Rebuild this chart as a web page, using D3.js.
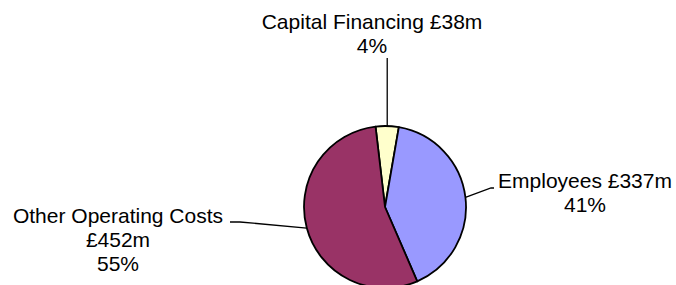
<!DOCTYPE html>
<html lang="en">
<head>
  <meta charset="UTF-8">
  <title>Expenditure pie</title>
  <script src="https://d3js.org/d3.v7.min.js"></script>
  <style>
    body { margin: 0; background: #fff; overflow: hidden; }
    text { font-family: "Liberation Sans", Arial, sans-serif; font-size: 21px; fill: #000; }
  </style>
</head>
<body>
<svg id="chart" width="676" height="285"></svg>
<script>
// data
const categories = ["Capital Financing", "Employees", "Other Operating Costs"];
const values = [38, 337, 452];          // £m
const percents = ["4%", "41%", "55%"];
const colours = ["#FFFFCC", "#9999FF", "#993366"];

const width = 676, height = 285;
const cx = 385, cy = 207, r = 81;
const startDeg = -6.7;

// label layout: text centre x, first baseline, where the leader line bends / ends
const labelLayout = [
  { lines: d => [d.cat + " £" + d.val + "m", d.pct], x: 372, y: 29, leader: (p) => [[p[0], 58]] },
  { lines: d => [d.cat + " £" + d.val + "m", d.pct], x: 585, y: 188, leader: () => [[491, 188], [494, 188]] },
  { lines: d => [d.cat, "£" + d.val + "m", d.pct], x: 118, y: 223, leader: () => [[240, 222], [230, 222]] }
];

const svg = d3.select("#chart").attr("viewBox", [0, 0, width, height]);

const rows = categories.map((c, i) => ({ cat: c, val: values[i], pct: percents[i], col: colours[i] }));

const start = startDeg * Math.PI / 180;
const pie = d3.pie().value(d => d.val).sort(null)
  .startAngle(start).endAngle(start + 2 * Math.PI);
const arcs = pie(rows);
const arc = d3.arc().innerRadius(0).outerRadius(r);

const g = svg.append("g").attr("transform", `translate(${cx},${cy})`);
g.selectAll("path").data(arcs).join("path")
  .attr("d", arc)
  .attr("fill", d => d.data.col)
  .attr("stroke", "#000")
  .attr("stroke-width", 1.8)
  .attr("stroke-linejoin", "round");

// leader lines + labels
arcs.forEach((a, i) => {
  const mid = (a.startAngle + a.endAngle) / 2;
  const edge = [cx + r * Math.sin(mid), cy - r * Math.cos(mid)];
  const L = labelLayout[i];
  const pts = [edge].concat(L.leader(edge));
  svg.append("path")
    .attr("d", d3.line()(pts))
    .attr("fill", "none")
    .attr("stroke", "#000")
    .attr("stroke-width", 1.3);

  const t = svg.append("text").attr("text-anchor", "middle");
  L.lines(a.data).forEach((s, k) => {
    t.append("tspan").attr("x", L.x).attr("y", L.y + k * 24).text(s);
  });
});
</script>
</body>
</html>
